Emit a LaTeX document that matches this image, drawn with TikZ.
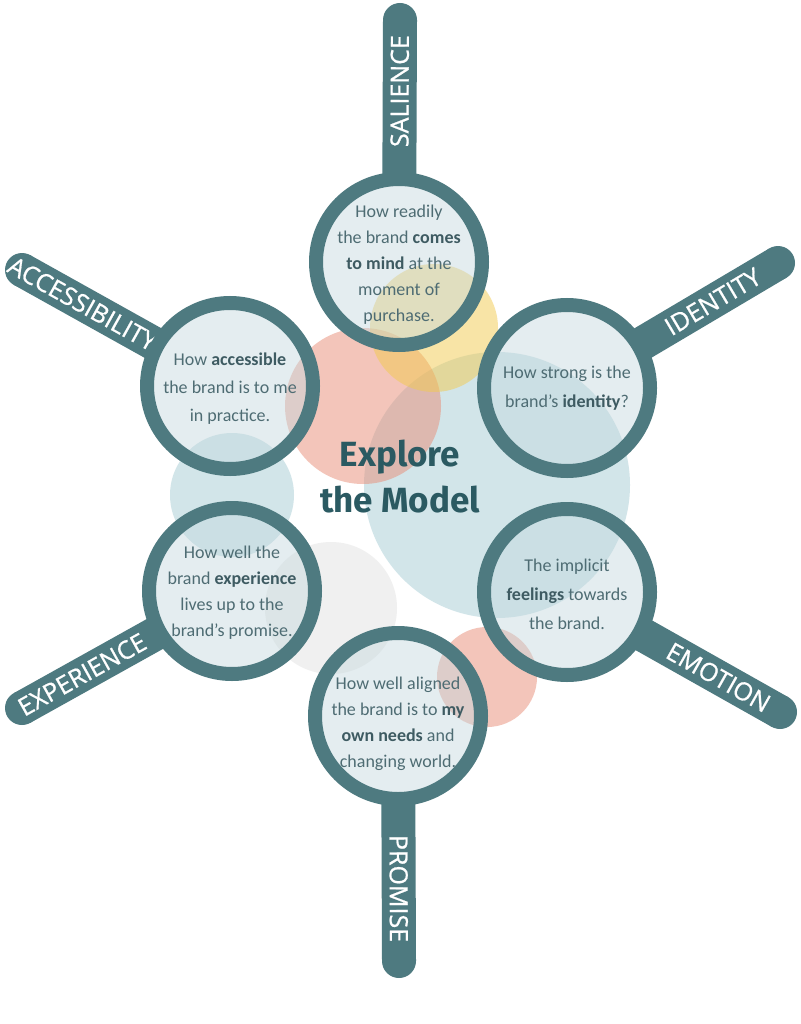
\documentclass[tikz,border=0pt]{standalone}
\usepackage{fontspec}
\setmainfont{Carlito}
\newfontfamily\hfont[FakeBold=0.8]{Open Sans}
\newfontfamily\tfont{Fira Sans}
\usetikzlibrary{calc}
\definecolor{ring}{HTML}{4E7A80}
\definecolor{lensfill}{HTML}{C4D8DE}
\definecolor{lenstext}{HTML}{4E6C73}
\definecolor{lensbold}{HTML}{3E5B62}
\definecolor{titlec}{HTML}{2B5A62}
\definecolor{cpink}{HTML}{E88D76}
\definecolor{cyellow}{HTML}{F2CA4E}
\definecolor{cblue}{HTML}{A7CDD5}
\definecolor{cgray}{HTML}{E2E2E2}
\newcommand\bb[1]{\textbf{\color{lensbold}#1}}
\tikzset{
  bgcircle/.style={fill=#1, fill opacity=0.5, draw=none},
  handle/.style={draw=ring, line width=34pt, line cap=butt},
  hlabel/.style={text=white, font=\hfont\fontsize{25}{25}\selectfont, inner sep=0pt},
  lens/.style={circle, minimum size=166pt, inner sep=0pt, line width=14pt,
    draw=ring, fill=lensfill, fill opacity=0.45},
  lenstxt/.style={text=lenstext, align=center, inner sep=0pt,
    font=\fontsize{18}{#1}\selectfont},
  lenstxt/.default=26,
  titlenode/.style={text=titlec, align=center, font=\tfont\bfseries\fontsize{35}{46}\selectfont}
}
\begin{document}
\begin{tikzpicture}[x=1pt,y=-1pt]
\useasboundingbox (0,0) rectangle (800,1024);
\fill[white] (0,0) rectangle (800,1024);
% background circles
\fill[bgcircle=cblue] (497,485) circle (133);
\fill[bgcircle=cblue] (232,495) circle (62);
\fill[bgcircle=cgray] (331,608) circle (66);
\fill[bgcircle=cpink] (363,406) circle (78);
\fill[bgcircle=cyellow] (434,328) circle (64);
\fill[bgcircle=cpink] (487,677) circle (50);
% lens centres and handle ends
\coordinate (Sc) at (399,262); \coordinate (Se) at (400,20);
\coordinate (Ac) at (230,386); \coordinate (Ae) at (22,270);
\coordinate (Ic) at (567,388); \coordinate (Ie) at (778,263);
\coordinate (Xc) at (232,591); \coordinate (Xe) at (22,708);
\coordinate (Ec) at (567,592); \coordinate (Ee) at (780,712);
\coordinate (Pc) at (398,716); \coordinate (Pe) at (399,961);
\foreach \l in {S,A,I,X,E,P}{
  \coordinate (\l i) at ($(\l c)!84pt!(\l e)$);
  \fill[ring] (\l e) circle (17);
}
% handles with labels
\draw[handle] (Se) -- (Si) node[hlabel, pos=0.45, sloped]{SALIENCE};
\draw[handle] (Pi) -- (Pe) node[hlabel, pos=0.55, sloped]{PROMISE};
\draw[handle] (Ai) -- (Ae) node[hlabel, pos=0.55, sloped]{ACCESSIBILITY};
\draw[handle] (Ii) -- (Ie) node[hlabel, pos=0.53, sloped]{IDENTITY};
\draw[handle] (Ei) -- (Ee) node[hlabel, pos=0.56, sloped]{EMOTION};
\draw[handle] (Xi) -- (Xe) node[hlabel, pos=0.56, sloped]{EXPERIENCE};
% lenses
\node[lens] (S) at (Sc) {};
\node[lens] (A) at (Ac) {};
\node[lens] (I) at (Ic) {};
\node[lens] (X) at (Xc) {};
\node[lens] (E) at (Ec) {};
\node[lens] (P) at (Pc) {};
% lens texts
\node[lenstxt] (St) at ($(S)+(0,3)$) {How readily\\the brand \bb{comes}\\\bb{to mind} at the\\moment of\\purchase.};
\node[lenstxt=28] (At) at ($(A)+(0,3)$) {How \bb{accessible}\\the brand is to me\\in practice.};
\node[lenstxt=29] (It) at ($(I)+(0,0)$) {How strong is the\\brand’s \bb{identity}?};
\node[lenstxt=26] (Xt) at ($(X)+(0,2)$) {How well the\\brand \bb{experience}\\lives up to the\\brand’s promise.};
\node[lenstxt=29] (Et) at ($(E)+(0,2)$) {The implicit\\\bb{feelings} towards\\the brand.};
\node[lenstxt] (Pt) at ($(P)+(0,8)$) {How well aligned\\the brand is to \bb{my}\\\bb{own needs} and\\changing world.};
% title
\node[titlenode] (T) at (400,477) {Explore\\the Model};
\end{tikzpicture}
\end{document}
